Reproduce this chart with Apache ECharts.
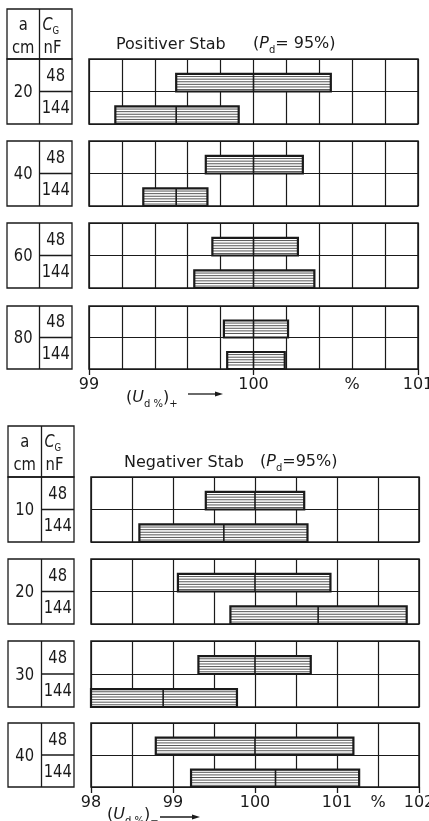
<!DOCTYPE html>
<html><head><meta charset="utf-8">
<script src="https://cdn.jsdelivr.net/npm/echarts@6/dist/echarts.min.js"></script>
<style>html,body{margin:0;padding:0;background:#fff}#c{width:429px;height:821px}</style>
</head><body><div id="c"></div>
<script>
// ---------- DATA ----------
const capacitances = ['48', '144'];
// Positiver Stab (P_d = 95 %)
const posDistances = ['20', '40', '60', '80'];
const posLow48   = [99.53, 99.71, 99.75, 99.82];
const posMean48  = [100.00, 100.00, 100.00, 100.00];
const posHigh48  = [100.47, 100.30, 100.27, 100.21];
const posLow144  = [99.16, 99.33, 99.64, 99.84];
const posMean144 = [99.53, 99.53, 100.00, 100.00];
const posHigh144 = [99.91, 99.72, 100.37, 100.19];
const posTickValues = [99, 100, 100.6, 101];
const posTickLabels = ['99', '100', '%', '101'];
// Negativer Stab (P_d = 95 %)
const negDistances = ['10', '20', '30', '40'];
const negLow48   = [99.40, 99.06, 99.31, 98.79];
const negMean48  = [100.00, 100.00, 100.00, 100.00];
const negHigh48  = [100.60, 100.92, 100.68, 101.20];
const negLow144  = [98.59, 99.70, 98.00, 99.22];
const negMean144 = [99.62, 100.77, 98.88, 100.25];
const negHigh144 = [100.64, 101.85, 99.78, 101.27];
const negTickValues = [98, 99, 100, 101, 101.5, 102];
const negTickLabels = ['98', '99', '100', '101', '%', '102'];

// ---------- LAYOUT ----------
const INK = '#1a1a1a';
const NARROW = "'DejaVu Sans',sans-serif";
const SANS = "'DejaVu Sans',sans-serif";
const sections = [
  { dist: posDistances, low48: posLow48, mean48: posMean48, high48: posHigh48,
    low144: posLow144, mean144: posMean144, high144: posHigh144,
    min: 99, max: 101, interval: 0.2, tv: posTickValues, tl: posTickLabels,
    left: 89, width: 329, tops: [59, 141, 223, 306], heights: [65, 65, 65, 63],
    tab: { x0: 7, x1: 39.5, x2: 72, hTop: 9 } },
  { dist: negDistances, low48: negLow48, mean48: negMean48, high48: negHigh48,
    low144: negLow144, mean144: negMean144, high144: negHigh144,
    min: 98, max: 102, interval: 0.5, tv: negTickValues, tl: negTickLabels,
    left: 91, width: 328, tops: [477, 559, 641, 723], heights: [65, 65, 66, 64],
    tab: { x0: 8, x1: 41.5, x2: 74, hTop: 426 } }
];
const BAR_FRAC = 0.54;

function renderBar(params, api) {
  const low = api.value(0), high = api.value(1), mean = api.value(2), row = api.value(3);
  const pL = api.coord([low, row + 1]);
  const pR = api.coord([high, row + 1 - BAR_FRAC]);
  const pM = api.coord([mean, row + 1]);
  const x = pL[0], y = pR[1], w = pR[0] - pL[0], h = pL[1] - pR[1];
  const children = [{ type: 'rect', shape: { x, y, width: w, height: h }, style: { fill: '#fff' } }];
  for (let yy = y + 2.6; yy < y + h - 1.5; yy += 2.6) {
    children.push({ type: 'line', shape: { x1: x, y1: yy, x2: x + w, y2: yy }, style: { stroke: '#444', lineWidth: 0.9 } });
  }
  children.push({ type: 'rect', shape: { x, y, width: w, height: h }, style: { fill: 'none', stroke: INK, lineWidth: 2.2 } });
  children.push({ type: 'line', shape: { x1: pM[0], y1: y, x2: pM[0], y2: y + h }, style: { stroke: INK, lineWidth: 1.6 } });
  return { type: 'group', children };
}

const grid = [], xAxis = [], yAxis = [], series = [], graphic = [];
const lineStyle = { color: INK, width: 1.2 };
const tableText = (t, x, y, extra) => Object.assign({
  type: 'text', z: 10, x, y, scaleX: 0.82,
  style: { text: t, x: 0, y: 0, fill: INK, font: '18px ' + NARROW, align: 'center', verticalAlign: 'middle', textAlign: 'center', textVerticalAlign: 'middle' }
}, extra || {});

sections.forEach((s, si) => {
  const T = s.tab, hBot = s.tops[0];
  graphic.push({ type: 'rect', shape: { x: T.x0, y: T.hTop, width: T.x2 - T.x0, height: hBot - T.hTop }, style: { fill: 'none', stroke: INK, lineWidth: 1.3 } });
  graphic.push({ type: 'line', shape: { x1: T.x1, y1: T.hTop, x2: T.x1, y2: hBot }, style: { stroke: INK, lineWidth: 1.3 } });
  const hy1 = T.hTop + 16, hy2 = T.hTop + 39;
  graphic.push(tableText('a', (T.x0 + T.x1) / 2, hy1));
  graphic.push(tableText('cm', (T.x0 + T.x1) / 2, hy2));
  graphic.push({ type: 'text', z: 10, x: T.x1 + 3, y: hy1 + 1, scaleX: 0.85, style: { text: '{c|C}{g|G}', x: 0, y: 0, align: 'left', verticalAlign: 'middle', textAlign: 'left', textVerticalAlign: 'middle', fill: INK,
    rich: { c: { fontSize: 17, fontFamily: NARROW, fontStyle: 'italic', lineHeight: 20, fill: INK }, g: { fontSize: 10, fontFamily: NARROW, verticalAlign: 'bottom', lineHeight: 12, fill: INK } } } });
  graphic.push(tableText('nF', T.x1 + 13, hy2, {}));

  s.dist.forEach((d, i) => {
    const gi = si * 4 + i;
    const top = s.tops[i], h = s.heights[i];
    const last = i === 3;
    grid.push({ left: s.left, top, width: s.width, height: h, show: true, borderColor: INK, borderWidth: 1.5,
      backgroundColor: 'transparent', containLabel: false, outerBoundsMode: 'none' });
    xAxis.push({
      gridIndex: gi, type: 'value', min: s.min, max: s.max, interval: s.interval,
      axisLine: { show: false }, axisTick: { show: false },
      splitLine: { show: true, lineStyle },
      axisLabel: {
        show: last, margin: 8, color: INK, fontSize: 16, fontFamily: NARROW,
        showMinLabel: true, showMaxLabel: true, hideOverlap: false,
        formatter: v => { const k = s.tv.findIndex(t => Math.abs(t - v) < 1e-6); return k >= 0 ? s.tl[k] : ''; }
      }
    });
    if (last) {
      xAxis.push({
        gridIndex: gi, type: 'value', position: 'bottom', min: s.min, max: s.max, interval: 1,
        axisLine: { show: false }, splitLine: { show: false }, axisLabel: { show: false },
        axisTick: { show: true, length: 6, lineStyle: { color: INK, width: 1.3 } }
      });
    }
    const xi = xAxis.length - (last ? 2 : 1);
    yAxis.push({ gridIndex: gi, type: 'value', min: 0, max: 2, interval: 1, inverse: true,
      axisLine: { show: false }, axisTick: { show: false }, axisLabel: { show: false },
      splitLine: { show: true, lineStyle } });
    series.push({
      type: 'custom', xAxisIndex: xi, yAxisIndex: gi, renderItem: renderBar, z: 5,
      encode: { x: [0, 1, 2], y: 3 },
      data: [[s.low48[i], s.high48[i], s.mean48[i], 0], [s.low144[i], s.high144[i], s.mean144[i], 1]]
    });
    graphic.push({ type: 'rect', shape: { x: T.x0, y: top, width: T.x2 - T.x0, height: h }, style: { fill: 'none', stroke: INK, lineWidth: 1.3 } });
    graphic.push({ type: 'line', shape: { x1: T.x1, y1: top, x2: T.x1, y2: top + h }, style: { stroke: INK, lineWidth: 1.3 } });
    graphic.push({ type: 'line', shape: { x1: T.x1, y1: top + h / 2, x2: T.x2, y2: top + h / 2 }, style: { stroke: INK, lineWidth: 1.3 } });
    graphic.push(tableText(d, (T.x0 + T.x1) / 2, top + h / 2 + 1));
    graphic.push(tableText(capacitances[0], (T.x1 + T.x2) / 2, top + h / 4 + 1));
    graphic.push(tableText(capacitances[1], (T.x1 + T.x2) / 2, top + 3 * h / 4 + 1));
  });
});

const titleRich = {
  n: { fontSize: 16, fontFamily: SANS, lineHeight: 22, fill: INK },
  i: { fontSize: 16, fontFamily: SANS, fontStyle: 'italic', lineHeight: 22, fill: INK },
  s: { fontSize: 10, fontFamily: SANS, verticalAlign: 'bottom', lineHeight: 12, fill: INK }
};
function richText(t, x, y) {
  return { type: 'text', z: 10, style: { text: t, x, y, fill: INK, align: 'left', verticalAlign: 'middle', textAlign: 'left', textVerticalAlign: 'middle', rich: titleRich } };
}
graphic.push(richText('{n|Positiver Stab}', 116, 45));
graphic.push(richText('{n|(}{i|P}{s|d}{n|= 95%)}', 253, 44));
graphic.push(richText('{n|Negativer Stab}', 124, 463));
graphic.push(richText('{n|(}{i|P}{s|d}{n|=95%)}', 260, 462));
graphic.push(richText('{n|(}{i|U}{s|d %}{n|)}{s|+}', 126, 398));
graphic.push(richText('{n|(}{i|U}{s|d %}{n|)}{s|−}', 107, 815));
function arrow(x1, x2, y) {
  graphic.push({ type: 'line', shape: { x1, y1: y, x2: x2 - 4, y2: y }, style: { stroke: INK, lineWidth: 1.3 } });
  graphic.push({ type: 'polygon', shape: { points: [[x2, y], [x2 - 8, y - 2.5], [x2 - 8, y + 2.5]] }, style: { fill: INK } });
}
arrow(188, 223, 394);
arrow(160, 200, 817);

const chart = echarts.init(document.getElementById('c'), null, { renderer: 'canvas' });
chart.setOption({ animation: false, backgroundColor: '#fff', grid, xAxis, yAxis, series, graphic });
</script></body></html>
